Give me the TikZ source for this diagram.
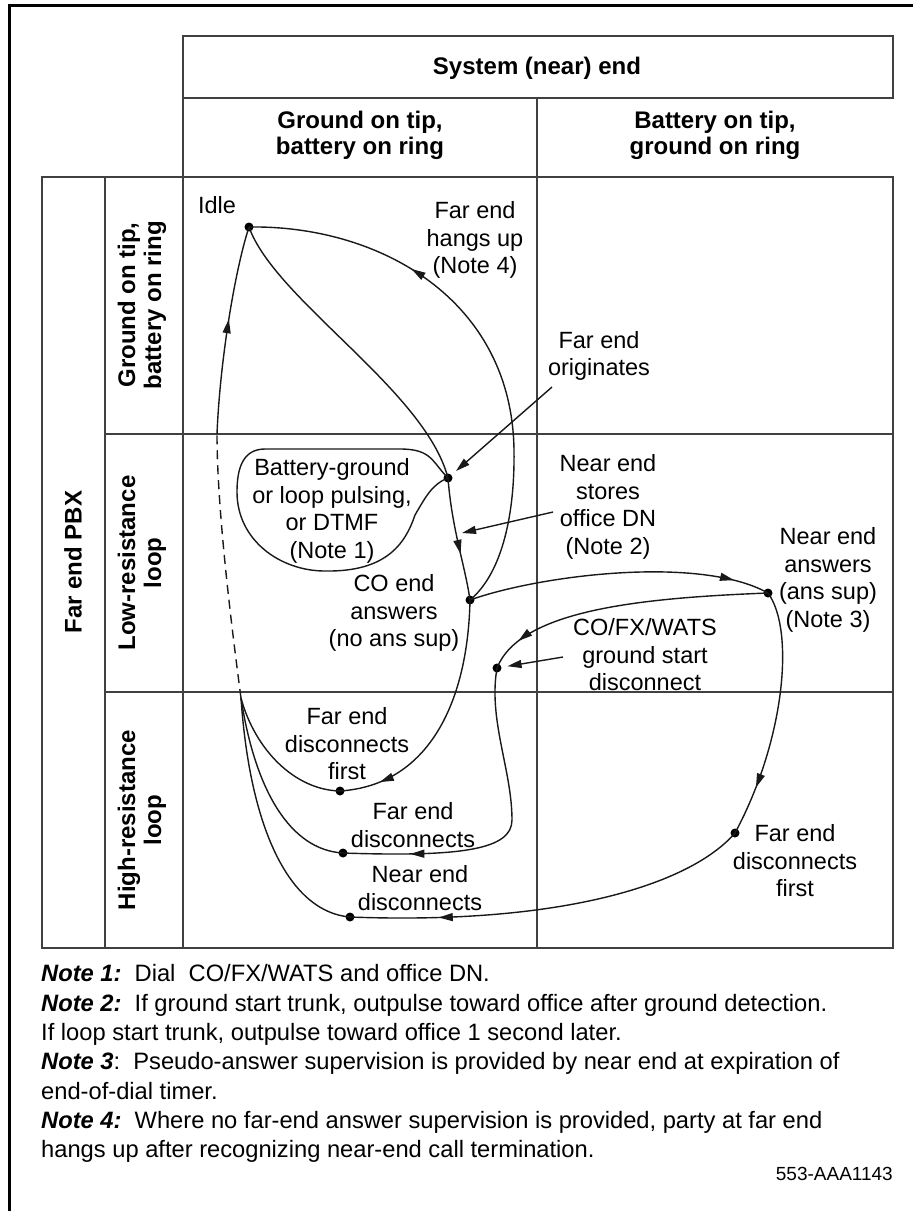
\documentclass[tikz,border=0pt]{standalone}
\usepackage{fontspec}
\setmainfont{Liberation Sans}
\usetikzlibrary{arrows.meta,decorations.markings}
\begin{document}
\begin{tikzpicture}[x=1pt,y=-1pt,
  tbl/.style={line width=1.4pt, draw=black!75},
  crv/.style={line width=1.4pt, draw=black!90},
  dotn/.style={circle, fill=black, inner sep=0pt, minimum size=9pt},
  lbl/.style={inner sep=0pt, align=center, font=\fontsize{23.5}{27.5}\selectfont},
  hdr/.style={inner sep=0pt, align=center, font=\bfseries\fontsize{24}{26}\selectfont},
  notetxt/.style={inner sep=0pt, anchor=base west, font=\fontsize{23.7}{29}\selectfont},
  marr/.style={postaction={decorate}, decoration={markings, mark=at position #1 with {\arrow{Triangle[length=14pt,width=8pt]}}}},
  ptr/.style={crv, -{Triangle[length=14pt,width=8pt]}},
]
\fill[white] (0,0) rectangle (913,1211);
\useasboundingbox (0,0) rectangle (913,1211);
% outer frame
\draw[line width=3.5pt, line cap=rect] (9.7,1211) -- (9.7,5.7) -- (913,5.7);
% table
\draw[tbl] (183,36) rectangle (893,98);
\draw[tbl] (42,177) rectangle (893,948);
\draw[tbl] (183,98) -- (183,948);
\draw[tbl] (105,177) -- (105,948);
\draw[tbl] (537,98) -- (537,948);
\draw[tbl] (105,434) -- (893,434);
\draw[tbl] (105,692) -- (893,692);
% headers
\node[hdr] (hsys) at (537,68) {System (near) end};
\node[hdr] (hc1) at (360,135) {Ground on tip,\\battery on ring};
\node[hdr] (hc2) at (715,135) {Battery on tip,\\ground on ring};
\node[hdr, rotate=90] (hpbx) at (73,562) {Far end PBX};
\node[hdr, rotate=90] (hr1) at (142,305) {Ground on tip,\\battery on ring};
\node[hdr, rotate=90] (hr2) at (142,563) {Low-resistance\\loop};
\node[hdr, rotate=90] (hr3) at (142,820) {High-resistance\\loop};
% state dots
\node[dotn] (I) at (249,227) {};
\node[dotn] (B) at (448,478) {};
\node[dotn] (C) at (470,600) {};
\node[dotn] (N) at (768,593) {};
\node[dotn] (G) at (497,668) {};
\node[dotn] (E) at (735,833) {};
\node[dotn] (D1) at (340,791) {};
\node[dotn] (D2) at (343,853) {};
\node[dotn] (D3) at (350,917) {};
\coordinate (F) at (241,698);
\coordinate (J) at (217,434);
\coordinate (H) at (514,450);
% labels
\node[lbl] (lidle) at (217,205) {Idle};
\node[lbl] (lhang) at (475,240) {Far end\\hangs up\\(Note 4)};
\node[lbl] (lorig) at (599,356) {Far end\\originates};
\node[lbl] (lbat) at (332,511) {Battery-ground\\or loop pulsing,\\or DTMF\\(Note 1)};
\node[lbl] (lstore) at (608,507) {Near end\\stores\\office DN\\(Note 2)};
\node[lbl] (lcoans) at (394,613) {CO end\\answers\\(no ans sup)};
\node[lbl] (lnans) at (828,580) {Near end\\answers\\(ans sup)\\(Note 3)};
\node[lbl] (lcofx) at (645,655) {CO/FX/WATS\\ground start\\disconnect};
\node[lbl] (lfdf1) at (347,744) {Far end\\disconnects\\first};
\node[lbl] (lfd2) at (413,825) {Far end\\disconnects};
\node[lbl] (lnd) at (420,888) {Near end\\disconnects};
\node[lbl] (lfdf2) at (795,861) {Far end\\disconnects\\first};
% curves
\draw[crv, dashed, dash pattern=on 9pt off 6pt] (F) .. controls (228,600) and (217,500) .. (J);
\draw[crv, marr=0.55] (J) .. controls (220,360) and (235,270) .. (I.center);
\draw[crv] (I.center) .. controls (275,300) and (425,390) .. (B.center);
\draw[crv, marr=0.62] (B.center) .. controls (452,530) and (465,565) .. (C.center);
\draw[crv, marr=0.69] (C.center) .. controls (500,575) and (515,520) .. (H) .. controls (512,300) and (380,225) .. (I.center);
\draw[crv] (B.center) .. controls (432,462) and (432,449) .. (400,449) -- (265,449) .. controls (242,449) and (237,470) .. (237,492) .. controls (237,540) and (280,571) .. (325,571) .. controls (385,572) and (405,545) .. (415,515) .. controls (425,498) and (432,484) .. (B.center);
\draw[crv, marr=0.88] (C.center) .. controls (540,575) and (700,555) .. (N.center);
\draw[crv, marr=0.84] (C.center) .. controls (468,700) and (430,785) .. (D1.center);
\draw[crv, marr=0.88] (N.center) .. controls (640,598) and (520,610) .. (G.center);
\draw[crv, marr=0.8] (G.center) .. controls (488,720) and (512,770) .. (512,820) .. controls (512,850) and (460,857) .. (D2.center);
\draw[crv, marr=0.8] (N.center) .. controls (795,630) and (785,740) .. (E.center);
\draw[crv, marr=0.78] (E.center) .. controls (690,885) and (560,925) .. (D3.center);
\draw[crv] (F) .. controls (255,750) and (295,790) .. (D1.center);
\draw[crv] (F) .. controls (255,790) and (290,850) .. (D2.center);
\draw[crv] (F) .. controls (250,830) and (290,912) .. (D3.center);
% pointer arrows
\coordinate (po) at (552,387);
\coordinate (ps) at (553,512);
\coordinate (pst) at (462,533);
\coordinate (pc) at (563,657);
\draw[ptr, shorten >=6pt] (po) -- (B);
\draw[ptr] (ps) -- (pst);
\draw[ptr, shorten >=6pt] (pc) -- (G);
% notes
\node[notetxt] (n1) at (41,981) {\textbf{\textit{Note 1:}}\ \ Dial\ \ CO/FX/WATS and office DN.};
\node[notetxt] (n2a) at (41,1011) {\textbf{\textit{Note 2:}}\ \ If ground start trunk, outpulse toward office after ground detection.};
\node[notetxt] (n2b) at (41,1040) {If loop start trunk, outpulse toward office 1 second later.};
\node[notetxt] (n3a) at (41,1069) {\textbf{\textit{Note 3}}:\ \ Pseudo-answer supervision is provided by near end at expiration of};
\node[notetxt] (n3b) at (41,1099) {end-of-dial timer.};
\node[notetxt] (n4a) at (41,1128) {\textbf{\textit{Note 4:}}\ \ Where no far-end answer supervision is provided, party at far end};
\node[notetxt] (n4b) at (41,1157) {hangs up after recognizing near-end call termination.};
\node[inner sep=0pt, anchor=base east, font=\fontsize{19}{22}\selectfont] (fid) at (893,1180) {553-AAA1143};
\end{tikzpicture}
\end{document}
